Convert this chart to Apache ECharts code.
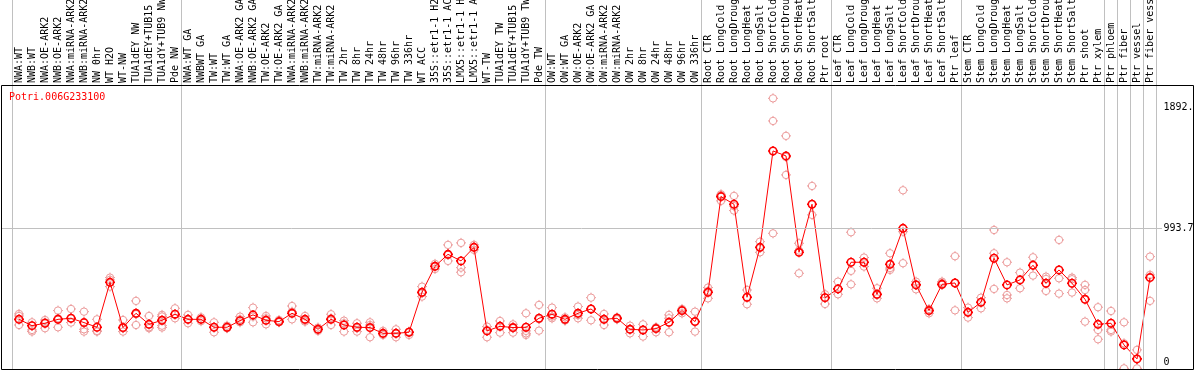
<!DOCTYPE html>
<html><head><meta charset="utf-8">
<script src="https://cdn.jsdelivr.net/npm/echarts@6/dist/echarts.min.js"></script>
<style>html,body{margin:0;padding:0;background:#fff}#c{width:1194px;height:370px}</style>
</head><body><div id="c"></div>
<script>
const geneName = 'Potri.006G233100';
const categories = [
 'NWA:WT','NWB:WT','NWA:OE-ARK2','NWB:OE-ARK2','NWA:miRNA-ARK2','NWB:miRNA-ARK2','NW 0hr','WT H2O','WT-NW','TUA1dEY NW','TUA1dEY+TUB15 NW','TUA1dY+TUB9 NW','Pde NW',
 'NWA:WT GA','NWBWT GA','TW:WT','TW:WT GA','NWA:OE-ARK2 GA','NWB:OE-ARK2 GA','TW:OE-ARK2','TW:OE-ARK2 GA','NWA:miRNA-ARK2','NWB:miRNA-ARK2','TW:miRNA-ARK2','TW:miRNA-ARK2',
 'TW 2hr','TW 8hr','TW 24hr','TW 48hr','TW 96hr','TW 336hr','WT ACC','35S::etr1-1 H2O','35S::etr1-1 ACC','LMX5::etr1-1 H2O','LMX5::etr1-1 ACC','WT-TW','TUA1dEY TW','TUA1dEY+TUB15 TW','TUA1dY+TUB9 TW','Pde TW',
 'OW:WT','OW:WT GA','OW:OE-ARK2','OW:OE-ARK2 GA','OW:miRNA-ARK2','OW:miRNA-ARK2','OW 2hr','OW 8hr','OW 24hr','OW 48hr','OW 96hr','OW 336hr',
 'Root CTR','Root LongCold','Root LongDrought','Root LongHeat','Root LongSalt','Root ShortCold','Root ShortDrought','Root ShortHeat','Root ShortSalt','Ptr root',
 'Leaf CTR','Leaf LongCold','Leaf LongDrought','Leaf LongHeat','Leaf LongSalt','Leaf ShortCold','Leaf ShortDrought','Leaf ShortHeat','Leaf ShortSalt','Ptr leaf',
 'Stem CTR','Stem LongCold','Stem LongDrought','Stem LongHeat','Stem LongSalt','Stem ShortCold','Stem ShortDrought','Stem ShortHeat','Stem ShortSalt',
 'Ptr shoot','Ptr xylem','Ptr phloem','Ptr fiber','Ptr vessel','Ptr fiber vessel'
];
const meanValues = [
 319,272,290,319,327,295,260,594,258,364,282,312,357,
 319,319,260,260,309,352,312,302,364,319,245,319,277,260,258,215,215,223,520,713,802,753,854,233,267,258,260,327,
 357,319,364,396,319,327,245,240,250,297,384,302,
 520,1231,1174,483,854,1570,1533,817,1174,480,
 545,743,743,505,728,995,575,384,579,589,
 371,446,773,575,612,721,587,686,587,
 468,282,290,129,25,629
];
const replicates = [
 [359,344,277],[297,240,228],[314,253,297],[384,260,327],[396,295,327],[376,245,228],[319,233,228],[629,612,562],[314,228,253],[456,277,357],[344,253,260],[352,340,272,258],[401,327,357],
 [352,290,319],[334,319,305],[297,223,260],[272,253,255],[339,297,319],[406,297,339],[344,282,327],[314,297,300],[418,319,376],[344,302,310],[258,233,245],[357,277,327],[309,228,290],[290,228,253],[297,186,277],[233,203,210],[245,186,215],[228,203,225],[562,488,513],[731,693,713],[872,753,797],[887,703,669],[872,835,854],[265,186,240],[307,220,270],[282,220,253],[364,215,203,233],[426,235,320],
 [406,327,339],[334,312,310],[414,327,350],[480,312,396],[359,277,320],[334,319,327],[272,215,245],[282,191,240],[260,223,255],[352,223,327],[396,364,384],[376,228,302],
 [555,475,530],[1248,1199,1240],[1236,1127,1160],[537,431,483],[896,817,850],[1961,1793,958],[1682,1392,1525],[884,661,830],[1310,1095,1174],[505,433,480],
 [599,505,545],[966,679,579],[778,711,743],[550,475,500],[810,686,700],[1278,736,970],[599,542,580],[396,364,384],[599,575,590],[788,386,589],
 [406,332,371],[480,401,446],[983,810,545],[743,500,475],[666,550,612],[780,644,721],[636,619,530],[909,624,510],[629,617,518],
 [575,537,302],[409,240,171],[381,240,228],[297,141,-45],[92,-45,25],[785,649,456]
];
const groupBoundaries = [0,13,41,53,63,73,84,85,86,87,88];
const yTickValues = [0, 993.7, 1892.6];
const midlineValue = 993.7;

const FONT = 'DejaVu Sans Mono';
const Y_MIN = -50, Y_MAX = 2060;
const ring = 'path://M5,0L5,1.3M5,8.7L5,10M0,5L1.3,5M8.7,5L10,5M1.3,5A3.7,3.7,0,1,1,8.7,5A3.7,3.7,0,1,1,1.3,5Z';

const repData = [];
replicates.forEach((arr, i) => arr.forEach(v => repData.push([i, v])));

const chart = echarts.init(document.getElementById('c'));
chart.setOption({
  animation: false,
  title: {text: geneName, left: 9, top: 92, padding: 0, textStyle: {color: '#ff0000', fontFamily: FONT, fontSize: 10, fontWeight: 'normal'}},
  grid: [
    {left: 12.5, top: 85, width: 1144, height: 284, outerBoundsMode: 'none', containLabel: false},
    {left: 1, top: 85, width: 1161, height: 284, outerBoundsMode: 'none', containLabel: false},
    {left: 12.5, top: 0, width: 1144, height: 370, outerBoundsMode: 'none', containLabel: false}
  ],
  xAxis: [
    {type: 'category', gridIndex: 0, position: 'top', data: categories, boundaryGap: true,
     axisLine: {show: false}, axisTick: {show: false}, splitLine: {show: false},
     axisLabel: {interval: 0, rotate: 90, margin: 2, align: 'left', verticalAlign: 'middle',
       fontFamily: FONT, fontSize: 10, color: '#000'}},
    {type: 'value', gridIndex: 1, min: 0, max: 1, show: false},
    {type: 'value', gridIndex: 2, min: 0, max: categories.length, show: false}
  ],
  yAxis: [
    {type: 'value', gridIndex: 0, min: Y_MIN, max: Y_MAX, position: 'right',
     axisLine: {show: false}, axisTick: {show: false}, splitLine: {show: false},
     axisLabel: {customValues: yTickValues, formatter: v => String(v), margin: 7, align: 'left',
       fontFamily: FONT, fontSize: 10, color: '#000'}},
    {type: 'value', gridIndex: 1, min: Y_MIN, max: Y_MAX, show: false},
    {type: 'value', gridIndex: 2, min: 0, max: 1, show: false}
  ],
  graphic: [{type: 'rect', silent: true, z: 100,
    shape: {x: 1.5, y: 85.5, width: 1192, height: 284},
    style: {fill: 'none', stroke: '#000', lineWidth: 1}}],
  series: [
    {type: 'line', xAxisIndex: 2, yAxisIndex: 2, data: [], z: 1,
     markLine: {silent: true, symbol: ['none', 'none'], label: {show: false}, animation: false,
       lineStyle: {color: '#c0c0c0', width: 1, type: 'solid'},
       data: groupBoundaries.map(b => ({xAxis: b}))}},
    {type: 'line', xAxisIndex: 1, yAxisIndex: 1, data: [], z: 1,
     markLine: {silent: true, symbol: ['none', 'none'], label: {show: false}, animation: false,
       lineStyle: {color: '#c0c0c0', width: 1, type: 'solid'},
       data: [{yAxis: midlineValue}]}},
    {type: 'scatter', xAxisIndex: 0, yAxisIndex: 0, data: repData, z: 3,
     symbol: ring, symbolSize: 10,
     itemStyle: {color: 'rgba(0,0,0,0)', borderColor: '#eb9a9a', borderWidth: 1, opacity: 1}},
    {type: 'line', xAxisIndex: 0, yAxisIndex: 0, data: meanValues, z: 4,
     symbol: ring, symbolSize: 10, showAllSymbol: true,
     lineStyle: {color: '#ff0000', width: 1},
     itemStyle: {color: 'rgba(0,0,0,0)', borderColor: '#ff0000', borderWidth: 1.6}}
  ]
});
</script></body></html>
